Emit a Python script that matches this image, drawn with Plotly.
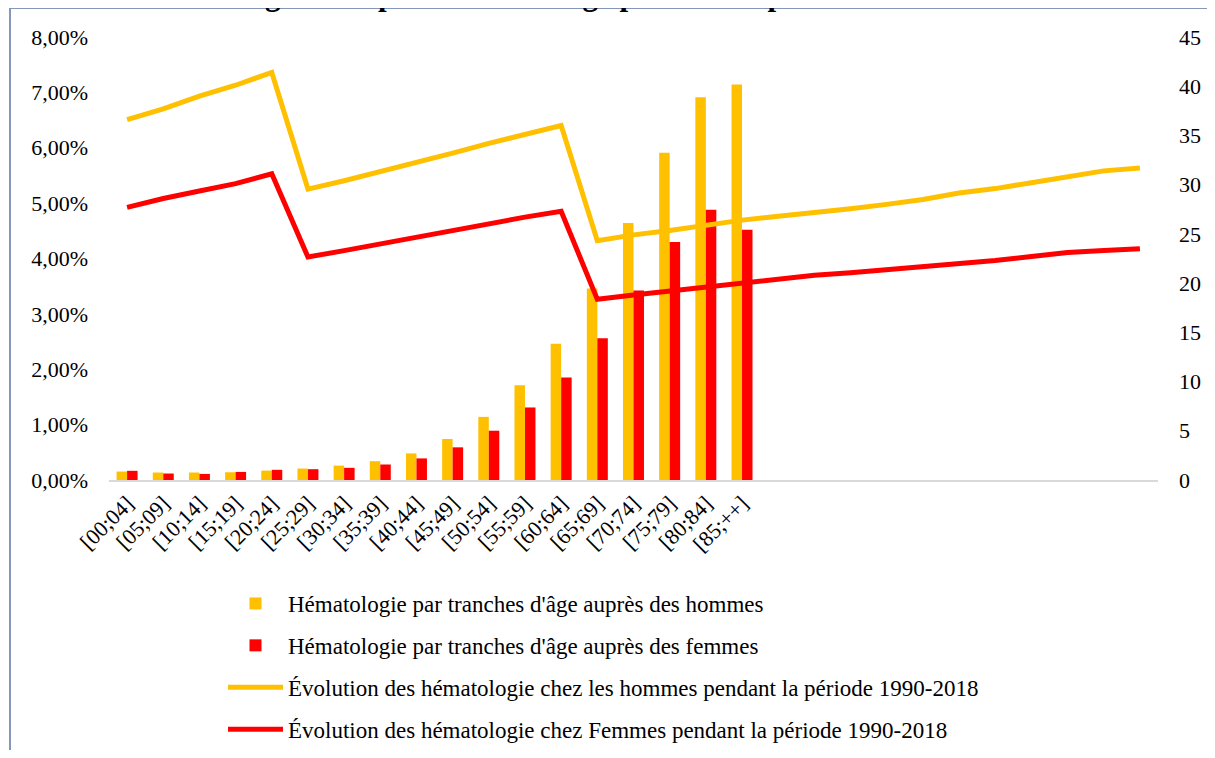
import plotly.graph_objects as go

# ---- data ----
age_labels = ["[00;04]", "[05;09]", "[10;14]", "[15;19]", "[20;24]", "[25;29]",
              "[30;34]", "[35;39]", "[40;44]", "[45;49]", "[50;54]", "[55;59]",
              "[60;64]", "[65;69]", "[70;74]", "[75;79]", "[80;84]", "[85;++]"]
men_pct = [0.153, 0.135, 0.135, 0.140, 0.170, 0.207, 0.260, 0.340, 0.480, 0.740,
           1.140, 1.710, 2.460, 3.460, 4.640, 5.910, 6.910, 7.140]
women_pct = [0.166, 0.117, 0.110, 0.146, 0.184, 0.195, 0.220, 0.280, 0.390, 0.590,
             0.890, 1.310, 1.850, 2.560, 3.420, 4.300, 4.880, 4.520]

years = [1990, 1991, 1992, 1993, 1994, 1995, 1996, 1997, 1998, 1999,
         2000, 2001, 2002, 2003, 2004, 2005, 2006, 2007, 2008, 2009,
         2010, 2011, 2012, 2013, 2014, 2015, 2016, 2017, 2018]
men_line = [36.6, 37.7, 39.0, 40.1, 41.4, 29.55, 30.4, 31.3, 32.3, 33.2,
            34.2, 35.1, 36.0, 24.3, 24.9, 25.35, 25.9, 26.4, 26.8, 27.15,
            27.55, 28.0, 28.5, 29.15, 29.6, 30.2, 30.8, 31.4, 31.7]
women_line = [27.7, 28.6, 29.35, 30.1, 31.1, 22.65, 23.3, 24.0, 24.7, 25.4,
              26.1, 26.7, 27.3, 18.35, 18.8, 19.2, 19.6, 20.0, 20.45, 20.8,
              21.05, 21.35, 21.6, 21.95, 22.3, 22.7, 23.1, 23.3, 23.5]

names = ["Hématologie par tranches d'âge auprès des hommes",
         "Hématologie par tranches d'âge auprès des femmes",
         "Évolution des hématologie chez les hommes pendant la période 1990-2018",
         "Évolution des hématologie chez Femmes pendant la période 1990-2018"]
title_text = "genre et par tranche d'âge pendant la période 1990-2018"

YELLOW = "#FFC000"
RED = "#FF0000"
FONT = "Liberation Serif, Times New Roman, serif"

# ---- layout geometry (pixels, figure coords; page body adds an 8px offset) ----
W, H = 1199, 742
L, R, T, B = 101, 49, 29, 270
pw, ph = W - L - R, H - T - B


def px_x(x):
    return (x - L) / pw


def px_y(y):
    return (H - B - y) / ph


fig = go.Figure()
fig.add_trace(go.Bar(x=age_labels, y=[v / 100 for v in men_pct], name=names[0],
                     marker=dict(color=YELLOW, line=dict(width=0)),
                     legendgroup="a"))
fig.add_trace(go.Bar(x=age_labels, y=[v / 100 for v in women_pct], name=names[1],
                     marker=dict(color=RED, line=dict(width=0)),
                     legendgroup="b"))
fig.add_trace(go.Scatter(x=years, y=men_line, name=names[2], mode="lines",
                         line=dict(color=YELLOW, width=5),
                         xaxis="x2", yaxis="y2", legendgroup="c"))
fig.add_trace(go.Scatter(x=years, y=women_line, name=names[3], mode="lines",
                         line=dict(color=RED, width=5),
                         xaxis="x2", yaxis="y2", legendgroup="d"))

fig.update_layout(
    width=W, height=H,
    margin=dict(l=L, r=R, t=T, b=B, autoexpand=False),
    paper_bgcolor="white", plot_bgcolor="white",
    font=dict(family=FONT, size=22, color="black"),
    separators=", ",
    barmode="group", bargap=0.42, bargroupgap=0,
    showlegend=True,
    legend=dict(orientation="v", x=px_x(215), xanchor="left",
                y=px_y(574), yanchor="top",
                font=dict(family=FONT, size=23, color="black"),
                tracegroupgap=9, traceorder="grouped",
                itemwidth=55, bgcolor="rgba(0,0,0,0)"),
    xaxis=dict(type="category", categoryorder="array", categoryarray=age_labels,
               range=[-0.5, 28.5], showgrid=False, zeroline=False,
               showline=True, linecolor="#D9D9D9", linewidth=2,
               ticks="", tickangle=-45, automargin=False,
               tickfont=dict(family=FONT, size=22, color="black")),
    xaxis2=dict(overlaying="x", range=[1989.5, 2018.5], visible=False,
                showgrid=False, zeroline=False),
    yaxis=dict(range=[0, 0.08], dtick=0.01, tickformat=".2%", showgrid=False,
               zeroline=False, showline=False, ticks="", automargin=False,
               ticklabelstandoff=20,
               tickfont=dict(family=FONT, size=22, color="black")),
    yaxis2=dict(range=[0, 45], dtick=5, overlaying="y", side="right", anchor="x",
                showgrid=False, zeroline=False, showline=False, ticks="",
                automargin=False, ticklabelstandoff=20,
                tickfont=dict(family=FONT, size=22, color="black")),
    shapes=[dict(type="rect", xref="paper", yref="paper",
                 x0=px_x(2), x1=px_x(1240), y0=px_y(800), y1=px_y(0),
                 line=dict(color="#8497B8", width=2), fillcolor="rgba(0,0,0,0)",
                 layer="below")],
    annotations=[dict(text="<b>" + title_text + "</b>", xref="paper", yref="paper",
                      x=px_x(629), y=px_y(-13.5), xanchor="center", yanchor="middle",
                      showarrow=False,
                      font=dict(family=FONT, size=31, color="black"))],
)

fig.write_html("out.html")
